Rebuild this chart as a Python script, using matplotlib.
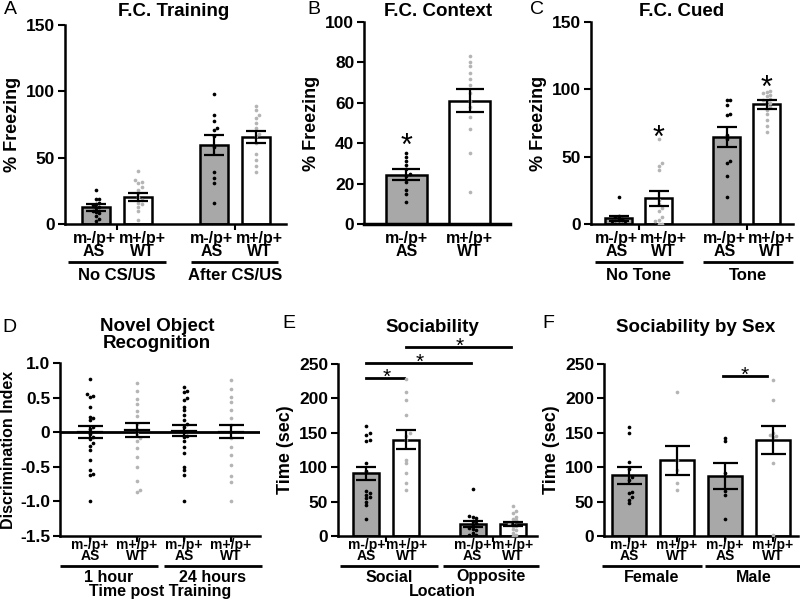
import numpy as np
import matplotlib
matplotlib.use("Agg")
import matplotlib.pyplot as plt
import matplotlib.transforms as mtransforms

plt.rcParams['font.family'] = ['Liberation Sans', 'DejaVu Sans']
plt.rcParams['font.weight'] = 'bold'

W, H = 800, 600

# ---------------- data ----------------
geno_labels = ['m-/p+\nAS', 'm+/p+\nWT', 'm-/p+\nAS', 'm+/p+\nWT']

# A: F.C. Training
A_groups = ['No CS/US', 'After CS/US']
A_means = [12.6, 20, 59.5, 65.5]
A_sem = [2.5, 3, 7.5, 4.8]
A_pts = [
    [26, 19, 19, 16, 15, 14, 13, 12, 10, 9, 8, 6, 4, 2],
    [40, 33, 32, 31, 28, 26, 23, 20, 18, 16, 15, 13, 10, 3],
    [98, 82, 78, 72, 71, 66, 58, 39, 35, 31, 16],
    [89, 86, 82, 80, 76, 72, 68, 66, 61, 53, 48, 44, 39],
]

# B: F.C. Context
B_means = [24.5, 61]
B_sem = [2.5, 5.8]
B_pts = [
    [35, 33, 31, 29, 27, 25, 24, 21, 17, 15, 11],
    [83, 80, 78, 75, 72, 69, 65, 61, 58, 53, 47, 35, 16],
]
B_star = [43]

# C: F.C. Cued
C_groups = ['No Tone', 'Tone']
C_means = [4.2, 19, 64.7, 88.9]
C_sem = [1.8, 5.3, 7.4, 3.3]
C_pts = [
    [20, 6, 5, 4, 3, 2, 1, 0, 0, 0],
    [63, 45, 43, 40, 18, 15, 12, 10, 5, 3, 2, 0, 0],
    [92, 92, 88, 82, 81, 66, 63, 47, 45, 36, 20],
    [99, 98, 97, 96, 95, 93, 92, 91, 90, 88, 87, 85, 82, 77, 73, 68],
]
C_star = [70, 107]

# D: Novel Object Recognition
D_groups = ['1 hour', '24 hours']
D_means = [0.005, 0.034, 0.02, 0.01]
D_sem = [0.082, 0.1, 0.08, 0.1]
D_pts = [
    [0.77, 0.55, 0.53, 0.51, 0.37, 0.22, 0.2, 0.17, 0.08, 0.05, -0.02, -0.07,
     -0.1, -0.16, -0.2, -0.26, -0.4, -0.55, -0.6, -0.62, -1.0],
    [0.71, 0.6, 0.48, 0.41, 0.3, 0.24, 0.12, 0.05, -0.02, -0.08, -0.12, -0.23,
     -0.36, -0.5, -0.7, -0.84, -0.87],
    [0.65, 0.6, 0.58, 0.5, 0.46, 0.37, 0.32, 0.25, 0.17, 0.12, 0.08, 0.0, -0.05,
     -0.07, -0.12, -0.21, -0.3, -0.5, -0.55, -0.62, -1.0],
    [0.76, 0.63, 0.51, 0.44, 0.32, 0.2, 0.1, -0.09, -0.21, -0.33, -0.48, -0.64,
     -0.72, -1.0],
]
D_ticks = [-1.5, -1.0, -0.5, 0, 0.5, 1.0]
D_ticklabels = ['-1.5', '-1.0', '-0.5', '0', '0.5', '1.0']

# E: Sociability
E_groups = ['Social', 'Opposite']
E_means = [91, 140, 17, 18]
E_sem = [10, 13.5, 4.5, 3]
E_pts = [
    [160, 150, 147, 140, 138, 106, 95, 65, 62, 60, 57, 55, 50, 45, 25],
    [228, 210, 198, 176, 150, 146, 140, 111, 106, 91, 77, 67],
    [68, 29, 28, 26, 22, 19, 15, 12, 10, 8, 5, 2, 1, 0],
    [43, 36, 33, 28, 25, 23, 20, 18, 15, 14, 10, 9, 5, 1, 0],
]
# (bar from, bar to, height)
E_sig = [(0, 1, 230), (0, 2, 251.5), (1, 3, 274.5)]

# F: Sociability by Sex
F_groups = ['Female', 'Male']
F_means = [88, 110, 87, 140]
F_sem = [13, 21, 18.5, 20.5]
F_pts = [
    [158, 150, 107, 98, 86, 82, 64, 62, 57, 53, 48],
    [209, 110, 96, 77, 67],
    [143, 138, 91, 66, 60, 25],
    [227, 197, 150, 147, 145, 144, 106, 1],
]
F_sig = [(2, 3, 232.5)]

# ---------------- styling ----------------
AS_FILL = '#a8a8a8'
WT_FILL = 'white'
AS_DOT = 'black'
WT_DOT = '#b4b4b4'
bar_fills = [AS_FILL, WT_FILL, AS_FILL, WT_FILL]
dot_cols = [AS_DOT, WT_DOT, AS_DOT, WT_DOT]

fig = plt.figure(figsize=(8, 6), dpi=100)

AX = {}


def add_ax(name, l, r, t, b):
    ax = fig.add_axes([l / W, 1 - b / H, (r - l) / W, (b - t) / H])
    AX[name] = (ax, l, r, t, b)
    return ax


def swarm(vals, x0, xpx, ypx, d=3.4):
    vals = np.asarray(vals, float)
    order = np.argsort(vals)
    placed = []
    xs = np.zeros(len(vals))
    cands = [0.0] + [s * j * d for j in range(1, 30) for s in (1, -1)]
    for i in order:
        yy = vals[i] * ypx
        for c in cands:
            if all((c - px) ** 2 + (yy - py) ** 2 >= d * d * 0.95 for px, py in placed):
                break
        placed.append((c, yy))
        xs[i] = x0 + c / xpx
    return xs


def style_ax(ax, ylim, yticks, yticklabels=None):
    ax.set_ylim(*ylim)
    ax.set_yticks(yticks)
    if yticklabels is not None:
        ax.set_yticklabels(yticklabels)
    for s in ['top', 'right']:
        ax.spines[s].set_visible(False)
    for s in ['left', 'bottom']:
        ax.spines[s].set_linewidth(1.8)
    ax.tick_params(axis='y', length=5, width=1.5, labelsize=12.5, pad=2)
    for lab in ax.get_yticklabels():
        lab.set_fontweight('bold')


def yfrac(name, ypx):
    ax, l, r, t, b = AX[name]
    return -(ypx - b) / (b - t)


def set_xlabels(name, pos, ycenter, fs, ls, xpx, offs=(0, 0, 0, 0),
                tickpos=None, ticklen=4):
    ax = AX[name][0]
    tr = mtransforms.blended_transform_factory(ax.transData, ax.transAxes)
    for i, p in enumerate(pos):
        ax.text(p + offs[i] / xpx, yfrac(name, ycenter), geno_labels[i], transform=tr,
                ha='center', va='center', fontsize=fs, fontweight='bold',
                linespacing=ls, multialignment='center')
    if tickpos is None:
        tickpos = pos
    ax.set_xticks(tickpos)
    ax.set_xticklabels([])
    ax.tick_params(axis='x', length=ticklen, width=1.5)


def group_lines(name, spans, names, ypx_line, ypx_text, fs):
    ax = AX[name][0]
    tr = mtransforms.blended_transform_factory(ax.transData, ax.transAxes)
    yl = yfrac(name, ypx_line)
    yt = yfrac(name, ypx_text)
    for (x0, x1), nm in zip(spans, names):
        ax.plot([x0, x1], [yl, yl], color='black', lw=2, transform=tr, clip_on=False,
                solid_capstyle='butt')
        ax.text((x0 + x1) / 2, yt, nm, transform=tr, ha='center', va='center',
                fontsize=fs, fontweight='bold')


def bars(ax, pos, means, sem, pts, width, xpx, ypx, capsize=7):
    for i, p in enumerate(pos):
        ax.bar(p, means[i], width=width, color=bar_fills[i], edgecolor='black',
               linewidth=1.8, zorder=2)
        xs = swarm(pts[i], p, xpx, ypx)
        ax.scatter(xs, pts[i], s=7, color=dot_cols[i], zorder=3, linewidths=0)
    ax.errorbar(pos, means, yerr=sem, fmt='none', ecolor='black', elinewidth=1.6,
                capsize=capsize, capthick=1.6, zorder=4)


def star(ax, x, y, fs=22):
    ax.annotate('*', (x, y), xytext=(0, -0.57 * fs), textcoords='offset points',
                ha='center', va='baseline', fontsize=fs, fontweight='normal',
                annotation_clip=False)


def letter(x, y, s):
    fig.text(x / W, 1 - y / H, s, fontsize=14, fontweight='normal', ha='left', va='center')


def title(s, cx, cy):
    fig.text(cx / W, 1 - cy / H, s, fontsize=13.5, fontweight='bold', ha='center',
             va='center', linespacing=0.95)


TOP_FS, TOP_LS, TOP_Y = 11.5, 0.88, 245
BOT_FS, BOT_LS, BOT_Y = 10, 0.8, 550.5

# ---------------- A ----------------
axA = add_ax('A', 65, 286, 25, 224)
posA = [0, 1, 2.8, 3.8]
axA.set_xlim(-0.74, 4.52)
bars(axA, posA, A_means, A_sem, A_pts, 0.67, 42, 199 / 150)
style_ax(axA, (0, 150), [0, 50, 100, 150])
set_xlabels('A', posA, TOP_Y, TOP_FS, TOP_LS, 42, offs=(-2, 4, -2, 4), tickpos=[0.5, 3.3])
axA.set_ylabel('% Freezing', fontsize=13, fontweight='bold', labelpad=4)
group_lines('A', [(-0.67, 1.67), (2.26, 4.34)], A_groups, 262, 275, 12)
title('F.C. Training', 174, 12)
letter(4, 10, 'A')

# ---------------- B ----------------
axB = add_ax('B', 364, 510, 22, 224)
posB = [0, 1]
axB.set_xlim(-0.67, 1.64)
bars(axB, posB, B_means, B_sem, B_pts, 0.65, 63, 202 / 100, capsize=10)
style_ax(axB, (0, 100), [0, 20, 40, 60, 80, 100])
set_xlabels('B', posB, TOP_Y, TOP_FS, TOP_LS, 63, ticklen=0)
axB.spines['bottom'].set_linewidth(2.5)
axB.set_ylabel('% Freezing', fontsize=13, fontweight='bold', labelpad=4)
star(axB, posB[0], B_star[0])
title('F.C. Context', 438, 11)
letter(307, 10, 'B')

# ---------------- C ----------------
axC = add_ax('C', 591, 793, 22, 224)
posC = [0, 1, 2.7, 3.7]
axC.set_xlim(-0.69, 4.36)
bars(axC, posC, C_means, C_sem, C_pts, 0.67, 40, 202 / 150)
style_ax(axC, (0, 150), [0, 50, 100, 150])
set_xlabels('C', posC, TOP_Y, TOP_FS, TOP_LS, 40, offs=(-2, 5, -2, 5), tickpos=[0.5, 3.2])
axC.set_ylabel('% Freezing', fontsize=13, fontweight='bold', labelpad=4)
group_lines('C', [(-0.6, 1.6), (2.1, 4.35)], C_groups, 262, 275, 12)
star(axC, posC[1], C_star[0])
star(axC, posC[3], C_star[1])
title('F.C. Cued', 682, 11)
letter(530, 10, 'C')

# ---------------- D ----------------
axD = add_ax('D', 60, 260, 363, 536)
posD = [0, 1, 2, 3]
axD.set_xlim(-0.64, 3.62)
for i, p in enumerate(posD):
    xs = swarm(D_pts[i], p, 47, 173 / 2.5)
    axD.scatter(xs, D_pts[i], s=7, color=dot_cols[i], zorder=3, linewidths=0)
    axD.plot([p - 0.25, p + 0.25], [D_means[i]] * 2, color='black', lw=1.6, zorder=4)
axD.errorbar(posD, D_means, yerr=D_sem, fmt='none', ecolor='black', elinewidth=1.6,
             capsize=9, capthick=1.6, zorder=4)
axD.axhline(0, color='black', lw=2, zorder=2)
style_ax(axD, (-1.5, 1.0), D_ticks, D_ticklabels)
set_xlabels('D', posD, BOT_Y, BOT_FS, BOT_LS, 47, ticklen=4)
axD.set_ylabel('Discrimination Index', fontsize=11.5, fontweight='bold', labelpad=3)
group_lines('D', [(-0.64, 1.45), (1.57, 3.66)], D_groups, 566, 577, 11.5)
trD = mtransforms.blended_transform_factory(axD.transData, axD.transAxes)
axD.text(1.5, yfrac('D', 591.5), 'Time post Training', transform=trD, ha='center',
         va='center', fontsize=11.5, fontweight='bold')
title('Novel Object\nRecognition', 157, 335)
letter(2, 328, 'D')

# ---------------- E ----------------
axE = add_ax('E', 338, 537, 364, 536)
posE = [0, 1, 2.65, 3.65]
axE.set_xlim(-0.71, 4.26)
bars(axE, posE, E_means, E_sem, E_pts, 0.65, 40, 172 / 250)
style_ax(axE, (0, 250), [0, 50, 100, 150, 200, 250])
set_xlabels('E', posE, BOT_Y, BOT_FS, BOT_LS, 40, tickpos=[0.5, 3.15])
axE.set_ylabel('Time (sec)', fontsize=13, fontweight='bold', labelpad=4)
group_lines('E', [(-0.66, 1.79), (1.91, 4.3)], E_groups, 566, 577, 11.5)
trE = mtransforms.blended_transform_factory(axE.transData, axE.transAxes)
axE.text(1.9, yfrac('E', 592), 'Location', transform=trE, ha='center', va='center',
         fontsize=11.5, fontweight='bold')
for a, b, h in E_sig:
    axE.plot([posE[a], posE[b] - 0.05], [h, h], color='black', lw=2, clip_on=False)
    star(axE, (posE[a] + posE[b]) / 2, h + 10, fs=15)
title('Sociability', 432, 328)
letter(282, 323, 'E')

# ---------------- F ----------------
axF = add_ax('F', 604, 798, 364, 536)
posF = [0, 1, 2, 3]
axF.set_xlim(-0.52, 3.52)
bars(axF, posF, F_means, F_sem, F_pts, 0.69, 48, 172 / 250, capsize=9)
style_ax(axF, (0, 250), [0, 50, 100, 150, 200, 250])
set_xlabels('F', posF, BOT_Y, BOT_FS, BOT_LS, 48, ticklen=4)
axF.set_ylabel('Time (sec)', fontsize=13, fontweight='bold', labelpad=4)
group_lines('F', [(-0.56, 1.52), (1.58, 3.6)], F_groups, 566, 577, 11.5)
for a, b, h in F_sig:
    axF.plot([posF[a] - 0.04, posF[b] - 0.12], [h, h], color='black', lw=2, clip_on=False)
    star(axF, (posF[a] + posF[b]) / 2 - 0.08, h + 10, fs=15)
title('Sociability by Sex', 696, 328)
letter(542, 323, 'F')

fig.savefig('out.png', dpi=100)
